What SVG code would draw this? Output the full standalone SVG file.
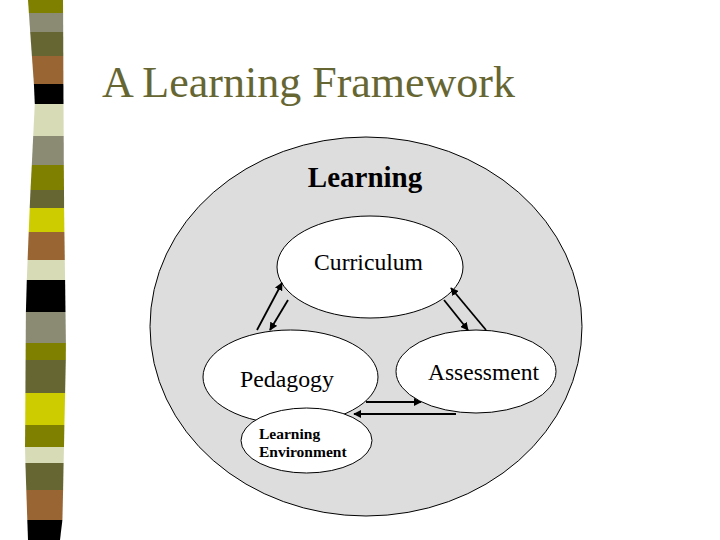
<svg xmlns="http://www.w3.org/2000/svg" width="720" height="540" viewBox="0 0 720 540">
<style>
.node{fill:#ffffff;stroke:#000000;stroke-width:1}
.conn{stroke:#000000;stroke-width:1.8;fill:none;marker-end:url(#ah)}
.t{font-family:"Liberation Serif","Times New Roman",serif;fill:#000000}
</style>
<defs>
<marker id="ah" viewBox="0 0 10 10" refX="9" refY="5" markerWidth="4.5" markerHeight="4.5" markerUnits="strokeWidth" orient="auto">
<path d="M0,0 L10,5 L0,10 z" fill="#000000"/>
</marker>
</defs>
<rect width="720" height="540" fill="#ffffff"/>
<g id="stripes">
<polygon points="28,0 63,0 63.1,13 28.9,13" fill="#808000"/>
<polygon points="28.9,13 63.1,13 63.2,32 30.2,32" fill="#8b8b73"/>
<polygon points="30.2,32 63.2,32 63.3,56 31.9,56" fill="#666633"/>
<polygon points="31.9,56 63.3,56 63.4,84 33.9,84" fill="#996633"/>
<polygon points="33.9,84 63.4,84 63.5,104 34.8,104" fill="#000000"/>
<polygon points="34.8,104 63.5,104 63.7,136 33.2,136" fill="#d8dcb6"/>
<polygon points="33.2,136 63.7,136 63.8,165 31.8,165" fill="#8b8b73"/>
<polygon points="31.8,165 63.8,165 64,190 30.5,190" fill="#808000"/>
<polygon points="30.5,190 64,190 64.1,208 29.7,208" fill="#666633"/>
<polygon points="29.7,208 64.1,208 64.4,232 28.7,232" fill="#cccc00"/>
<polygon points="28.7,232 64.4,232 64.8,260 27.6,260" fill="#996633"/>
<polygon points="27.6,260 64.8,260 65.1,280 26.8,280" fill="#d8dcb6"/>
<polygon points="26.8,280 65.1,280 65.5,312 25.9,312" fill="#000000"/>
<polygon points="25.9,312 65.5,312 65.9,343 25.7,343" fill="#8b8b73"/>
<polygon points="25.7,343 65.9,343 65.8,360 25.6,360" fill="#808000"/>
<polygon points="25.6,360 65.8,360 65.1,393 25.4,393" fill="#666633"/>
<polygon points="25.4,393 65.1,393 64.4,425 25.2,425" fill="#cccc00"/>
<polygon points="25.2,425 64.4,425 64,447 25,447" fill="#808000"/>
<polygon points="25,447 64,447 63.6,463 25.4,463" fill="#d8dcb6"/>
<polygon points="25.4,463 63.6,463 63.1,490 26.3,490" fill="#666633"/>
<polygon points="26.3,490 63.1,490 62.4,520 27.3,520" fill="#996633"/>
<polygon points="27.3,520 62.4,520 60,540 28,540" fill="#000000"/>
</g>
<text x="102" y="97" font-family="Liberation Serif,Times New Roman,serif" font-size="44" fill="#666633">A Learning Framework</text>
<g id="learning">
<ellipse cx="366" cy="326.5" rx="216" ry="189.5" fill="#dddddd" stroke="#000000" stroke-width="1"/>
<text class="t" x="365" y="187" font-size="29" font-weight="bold" text-anchor="middle">Learning</text>
</g>
<g id="curriculum">
<ellipse class="node" cx="370" cy="267" rx="93" ry="51"/>
<text class="t" x="368.5" y="270" font-size="23.6" text-anchor="middle">Curriculum</text>
</g>
<g id="pedagogy">
<ellipse class="node" cx="290.5" cy="377" rx="87.5" ry="47"/>
<text class="t" x="240" y="387" font-size="23.8">Pedagogy</text>
</g>
<g id="assessment">
<ellipse class="node" cx="476" cy="371.5" rx="80" ry="41.5"/>
<text class="t" x="428" y="380" font-size="23.5">Assessment</text>
</g>
<g id="environment">
<ellipse class="node" cx="306.5" cy="440.5" rx="65.5" ry="32.5"/>
<text class="t" x="259" y="439" font-size="15.5" font-weight="bold">Learning</text>
<text class="t" x="259" y="457" font-size="15.5" font-weight="bold">Environment</text>
</g>
<g id="connectors">
<line class="conn" x1="257" y1="330" x2="282" y2="283"/>
<line class="conn" x1="288" y1="300" x2="270" y2="330"/>
<line class="conn" x1="444" y1="300" x2="468" y2="330"/>
<line class="conn" x1="486" y1="330" x2="451" y2="288"/>
<line class="conn" x1="366" y1="402" x2="421" y2="402"/>
<line class="conn" x1="456" y1="414" x2="354" y2="414"/>
</g>
</svg>
